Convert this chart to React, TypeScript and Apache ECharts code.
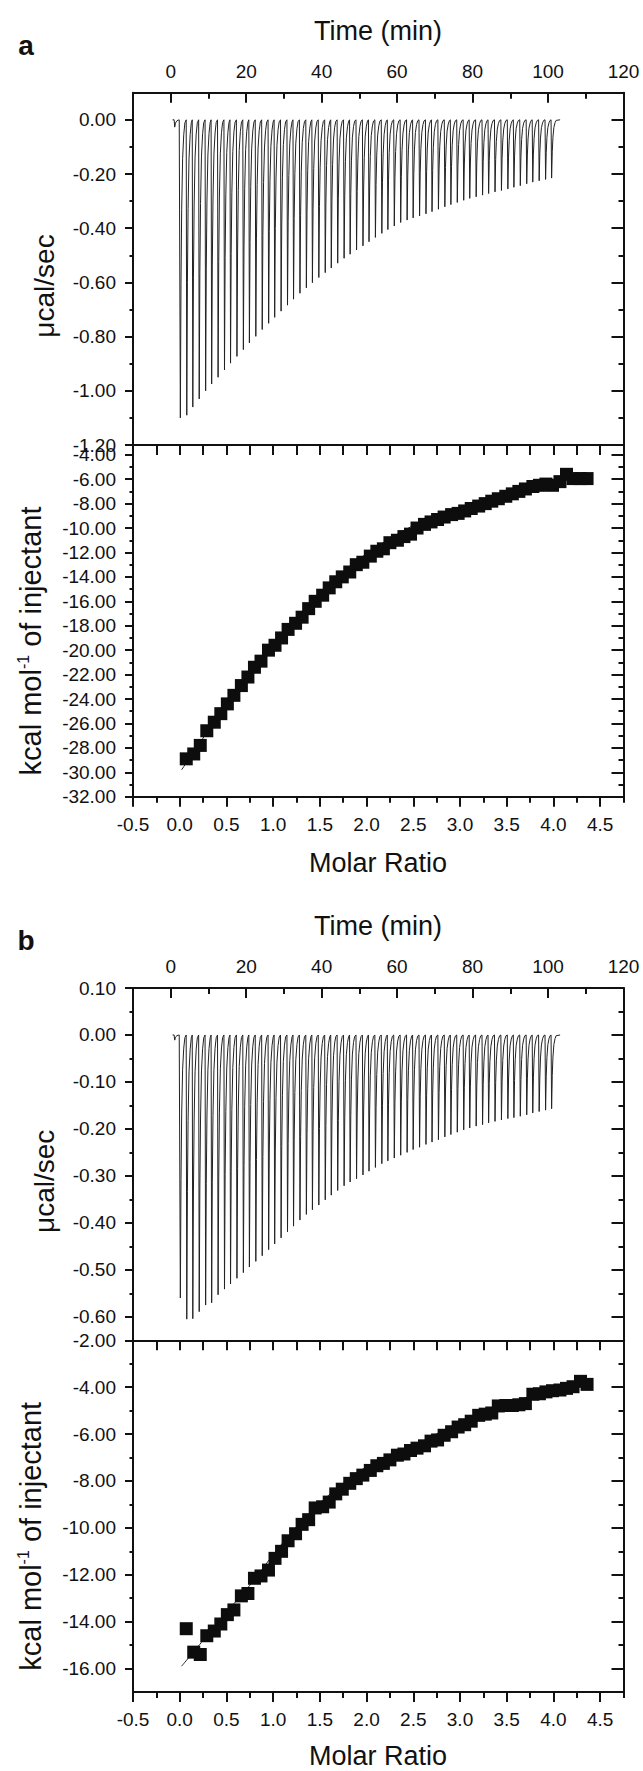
import React, { useEffect, useRef } from "react";
import * as echarts from "echarts";

// ---------------- data ----------------
const timeLabels = [0, 20, 40, 60, 80, 100, 120];
const timeMinor = [10, 30, 50, 70, 90, 110];
const molarLabels = [-0.5, 0, 0.5, 1, 1.5, 2, 2.5, 3, 3.5, 4, 4.5];
const molarMinor = [-0.25, 0.25, 0.75, 1.25, 1.75, 2.25, 2.75, 3.25, 3.75, 4.25, 4.75];
const molarAll = [...molarLabels, ...molarMinor];

const rawAYLabels = [0, -0.2, -0.4, -0.6, -0.8, -1.0, -1.2];
const rawAYMinor = [-0.1, -0.3, -0.5, -0.7, -0.9, -1.1];
const isoAYLabels = [-4, -6, -8, -10, -12, -14, -16, -18, -20, -22, -24, -26, -28, -30, -32];
const isoAYMinor = [-5, -7, -9, -11, -13, -15, -17, -19, -21, -23, -25, -27, -29, -31];
const rawBYLabels = [0.1, 0, -0.1, -0.2, -0.3, -0.4, -0.5, -0.6];
const rawBYMinor = [0.05, -0.05, -0.15, -0.25, -0.35, -0.45, -0.55];
const isoBYLabels = [-2, -4, -6, -8, -10, -12, -14, -16];
const isoBYMinor = [-3, -5, -7, -9, -11, -13, -15];

// injection times (min)
const injectionTimes = [
  0.9,
  2.4, 4.1, 5.7, 7.4, 9.1, 10.7, 12.4, 14.1, 15.7, 17.4,
  19.1, 20.7, 22.4, 24.1, 25.8, 27.4, 29.1, 30.8, 32.4, 34.1,
  35.8, 37.4, 39.1, 40.8, 42.4, 44.1, 45.8, 47.4, 49.1, 50.8,
  52.4, 54.1, 55.8, 57.4, 59.1, 60.8, 62.5, 64.1, 65.8, 67.5,
  69.1, 70.8, 72.5, 74.1, 75.8, 77.5, 79.1, 80.8, 82.5, 84.1,
  85.8, 87.5, 89.2, 90.8, 92.5, 94.2, 95.8, 97.5, 99.2, 100.8,
];
// peak heights (µcal/sec)
const peakA = [
  -0.027,
  -1.10, -1.09, -1.06, -1.03, -1.0, -0.975, -0.95, -0.923, -0.898, -0.873,
  -0.848, -0.823, -0.799, -0.774, -0.751, -0.729, -0.706, -0.684, -0.662, -0.64,
  -0.62, -0.601, -0.582, -0.564, -0.547, -0.529, -0.511, -0.496, -0.48, -0.465,
  -0.45, -0.434, -0.419, -0.405, -0.392, -0.379, -0.37, -0.362, -0.355, -0.347,
  -0.339, -0.33, -0.321, -0.313, -0.305, -0.297, -0.29, -0.284, -0.278, -0.272,
  -0.266, -0.261, -0.255, -0.249, -0.243, -0.236, -0.23, -0.225, -0.22, -0.215,
];
const peakB = [
  -0.011,
  -0.56, -0.605, -0.604, -0.589, -0.575, -0.57, -0.553, -0.541, -0.53, -0.518,
  -0.506, -0.494, -0.482, -0.47, -0.457, -0.445, -0.432, -0.419, -0.407, -0.394,
  -0.382, -0.372, -0.362, -0.351, -0.341, -0.331, -0.321, -0.313, -0.306, -0.298,
  -0.29, -0.282, -0.274, -0.268, -0.262, -0.256, -0.25, -0.244, -0.239, -0.233,
  -0.228, -0.223, -0.217, -0.212, -0.207, -0.202, -0.198, -0.194, -0.191, -0.187,
  -0.184, -0.181, -0.178, -0.176, -0.173, -0.17, -0.166, -0.163, -0.16, -0.157,
];

const molarRatio = [
  0.07, 0.15, 0.22, 0.29, 0.37, 0.44, 0.51, 0.58, 0.66, 0.73,
  0.80, 0.87, 0.95, 1.02, 1.09, 1.16, 1.24, 1.31, 1.38, 1.45,
  1.53, 1.60, 1.67, 1.74, 1.82, 1.89, 1.96, 2.04, 2.11, 2.18,
  2.25, 2.33, 2.40, 2.47, 2.54, 2.62, 2.69, 2.76, 2.83, 2.91,
  2.98, 3.05, 3.12, 3.20, 3.27, 3.34, 3.41, 3.49, 3.56, 3.63,
  3.70, 3.78, 3.85, 3.92, 3.99, 4.07, 4.14, 4.21, 4.29, 4.36,
];
const heatA = [
  -28.9, -28.5, -27.8, -26.6, -25.9, -25.2, -24.4, -23.7, -22.9, -22.2,
  -21.4, -20.9, -20.0, -19.6, -19.0, -18.3, -17.8, -17.3, -16.6, -16.0,
  -15.5, -14.9, -14.4, -14.0, -13.6, -13.0, -12.8, -12.3, -11.9, -11.7,
  -11.2, -11.0, -10.7, -10.5, -10.0, -9.7, -9.5, -9.3, -9.1, -8.9,
  -8.8, -8.6, -8.4, -8.2, -8.0, -7.8, -7.6, -7.4, -7.2, -7.0,
  -6.8, -6.6, -6.5, -6.4, -6.5, -6.2, -5.6, -5.95, -5.95, -5.95,
];
const heatB = [
  -14.3, -15.3, -15.4, -14.6, -14.4, -14.1, -13.7, -13.5, -12.9, -12.8,
  -12.15, -12.05, -11.8, -11.3, -11.0, -10.55, -10.25, -9.85, -9.65, -9.15,
  -9.1, -8.9, -8.55, -8.35, -8.1, -7.9, -7.75, -7.55, -7.35, -7.25,
  -7.1, -6.9, -6.85, -6.7, -6.6, -6.5, -6.3, -6.25, -6.05, -5.9,
  -5.7, -5.6, -5.45, -5.2, -5.15, -5.1, -4.8, -4.78, -4.78, -4.75,
  -4.7, -4.3, -4.28, -4.2, -4.15, -4.12, -4.05, -3.98, -3.75, -3.88,
];
const fitXA = [0.02, 0.25, 0.5, 0.75, 1.0, 1.25, 1.5, 1.75, 2.0, 2.5, 3.0, 3.5, 4.0, 4.35];
const fitYA = [-29.8, -27.2, -24.4, -21.8, -19.4, -17.3, -15.3, -13.6, -12.1, -9.8, -8.3, -7.1, -6.2, -5.7];
const fitXB = [0.02, 0.25, 0.5, 0.75, 1.0, 1.25, 1.5, 1.75, 2.0, 2.5, 3.0, 3.5, 4.0, 4.35];
const fitYB = [-15.9, -14.8, -13.6, -12.45, -11.15, -9.95, -8.95, -8.1, -7.4, -6.5, -5.5, -4.75, -4.05, -3.8];

// ---------------- styling ----------------
const FONT = "'Liberation Sans', Arial, Helvetica, sans-serif";
const INK = "#111";
// shape of one injection peak: [minutes after injection, fraction of peak height]
const spikeShape = [[0, 0], [0.15, 1], [0.32, 0.55], [0.5, 0.3], [0.75, 0.13], [1.05, 0.05], [1.35, 0.01]];

function thermogram(times: number[], peaks: number[]) {
  const pts: number[][] = [[0.5, 0]];
  times.forEach((t, i) => {
    for (const [dt, f] of spikeShape) pts.push([t + dt, peaks[i] * f]);
  });
  pts.push([103.2, 0]);
  return pts;
}

type AxOpt = {
  grid: number; pos: string; min: number; max: number; ticks: number[]; len: number; inside: boolean;
  line?: boolean; labels?: number[]; fmt?: (v: number) => string; margin?: number;
};
function axis(o: AxOpt) {
  return {
    type: "value", gridIndex: o.grid, position: o.pos, min: o.min, max: o.max,
    axisLine: { show: !!o.line, onZero: false, lineStyle: { color: INK, width: 2 } },
    axisTick: { show: true, inside: o.inside, length: o.len, customValues: o.ticks, lineStyle: { color: INK, width: 2 } },
    axisLabel: o.labels
      ? { show: true, customValues: o.labels, formatter: o.fmt, margin: o.margin, fontSize: 19, fontFamily: FONT, color: INK, hideOverlap: false }
      : { show: false },
    splitLine: { show: false },
    minorTick: { show: false },
    minorSplitLine: { show: false },
  };
}

const LEFT = 133;
const WIDTH = 490.5;
const PANEL_DY = 895.3;

function buildOption() {
  const grids: any[] = [];
  const xAxes: any[] = [];
  const yAxes: any[] = [];
  const series: any[] = [];
  const graphics: any[] = [];

  const panels = [
    { letter: "a", peaks: peakA, heat: heatA, fitX: fitXA, fitY: fitYA,
      rawMin: -1.2, rawMax: 0.1, rawLabels: rawAYLabels, rawMinor: rawAYMinor,
      isoMin: -32, isoMax: -3.2, isoLabels: isoAYLabels, isoMinor: isoAYMinor },
    { letter: "b", peaks: peakB, heat: heatB, fitX: fitXB, fitY: fitYB,
      rawMin: -0.65, rawMax: 0.1, rawLabels: rawBYLabels, rawMinor: rawBYMinor,
      isoMin: -17, isoMax: -2, isoLabels: isoBYLabels, isoMinor: isoBYMinor },
  ];

  panels.forEach((p, pi) => {
    const dy = pi * PANEL_DY;
    const gTop = grids.length;
    grids.push({ left: LEFT, width: WIDTH, top: 92.7 + dy, height: 352.3, containLabel: false, outerBoundsMode: "none" });
    const gIso = grids.length;
    grids.push({ left: LEFT, width: WIDTH, top: 445 + dy, height: 351.7, containLabel: false, outerBoundsMode: "none" });

    // --- raw thermogram subplot ---
    const xTime = xAxes.length;
    xAxes.push(axis({ grid: gTop, pos: "top", min: -10, max: 120, ticks: timeLabels, len: 10, inside: true, line: true,
      labels: timeLabels, fmt: (v) => String(v), margin: 12 }));
    xAxes.push(axis({ grid: gTop, pos: "top", min: -10, max: 120, ticks: timeMinor, len: 6, inside: true }));
    const yRaw = yAxes.length;
    const f2 = (v: number) => v.toFixed(2);
    yAxes.push(axis({ grid: gTop, pos: "left", min: p.rawMin, max: p.rawMax, ticks: p.rawLabels, len: 8, inside: false, line: true,
      labels: p.rawLabels, fmt: f2, margin: 17 }));
    yAxes.push(axis({ grid: gTop, pos: "left", min: p.rawMin, max: p.rawMax, ticks: p.rawMinor, len: 3.5, inside: false }));
    yAxes.push(axis({ grid: gTop, pos: "right", min: p.rawMin, max: p.rawMax, ticks: p.rawLabels, len: 12, inside: true, line: true }));
    yAxes.push(axis({ grid: gTop, pos: "right", min: p.rawMin, max: p.rawMax, ticks: p.rawMinor, len: 5, inside: true }));

    series.push({
      type: "line", xAxisIndex: xTime, yAxisIndex: yRaw, data: thermogram(injectionTimes, p.peaks),
      showSymbol: false, symbol: "none", silent: true, lineStyle: { color: "#222", width: 1 },
    });

    // --- isotherm subplot ---
    const xMol = xAxes.length;
    xAxes.push(axis({ grid: gIso, pos: "bottom", min: -0.5, max: 4.75, ticks: molarLabels, len: 10, inside: false, line: true,
      labels: molarLabels, fmt: (v) => v.toFixed(1), margin: 18 }));
    xAxes.push(axis({ grid: gIso, pos: "bottom", min: -0.5, max: 4.75, ticks: molarMinor, len: 6, inside: false }));
    xAxes.push(axis({ grid: gIso, pos: "top", min: -0.5, max: 4.75, ticks: molarAll, len: 10, inside: true, line: true }));
    const yIso = yAxes.length;
    yAxes.push(axis({ grid: gIso, pos: "left", min: p.isoMin, max: p.isoMax, ticks: p.isoLabels, len: 8, inside: false, line: true,
      labels: p.isoLabels, fmt: f2, margin: 17 }));
    yAxes.push(axis({ grid: gIso, pos: "left", min: p.isoMin, max: p.isoMax, ticks: p.isoMinor, len: 3.5, inside: false }));
    yAxes.push(axis({ grid: gIso, pos: "right", min: p.isoMin, max: p.isoMax, ticks: p.isoLabels, len: 12, inside: true, line: true }));
    yAxes.push(axis({ grid: gIso, pos: "right", min: p.isoMin, max: p.isoMax, ticks: p.isoMinor, len: 5, inside: true }));

    series.push({
      type: "line", xAxisIndex: xMol, yAxisIndex: yIso, smooth: 0.4, showSymbol: false, symbol: "none", silent: true,
      data: p.fitX.map((x, i) => [x, p.fitY[i]]), lineStyle: { color: "#222", width: 1 }, z: 2,
    });
    series.push({
      type: "scatter", xAxisIndex: xMol, yAxisIndex: yIso, symbol: "rect", symbolSize: [13, 13], silent: true,
      data: molarRatio.map((m, i) => [m, p.heat[i]]), itemStyle: { color: "#0d0d0d", opacity: 1 }, z: 3,
    });

    // --- texts ---
    const t = (text: string, x: number, y: number, size: number, extra: any = {}) => ({
      type: "text", x, y, rotation: extra.rot || 0, silent: true,
      style: {
        text, fontSize: size, fontFamily: FONT, fontWeight: extra.bold ? "bold" : "normal", fill: INK,
        align: "center", verticalAlign: "middle", textAlign: "center", textVerticalAlign: "middle",
        rich: extra.rich,
      },
    });
    graphics.push(t(p.letter, 26, 45 + dy, 28, { bold: true }));
    graphics.push(t("Time (min)", 378, 31 + dy, 27));
    graphics.push(t("Molar Ratio", 378, 863 + dy - pi * 2, 27));
    graphics.push(t("μcal/sec", 44, 286 + dy, 28, { rot: Math.PI / 2 }));
    graphics.push(t("{n|kcal mol}{s|-1}{n| of injectant}", 31, 641 + dy, 29, {
      rot: Math.PI / 2,
      rich: {
        n: { fontSize: 29, lineHeight: 32, fontFamily: FONT, fill: INK, color: INK },
        s: { fontSize: 16, lineHeight: 17, verticalAlign: "top", fontFamily: FONT, fill: INK, color: INK },
      },
    }));
  });

  return {
    animation: false,
    backgroundColor: "#ffffff",
    textStyle: { fontFamily: FONT },
    grid: grids,
    xAxis: xAxes,
    yAxis: yAxes,
    series,
    graphic: { elements: graphics },
  };
}

export default function App() {
  const ref = useRef<HTMLDivElement>(null);
  useEffect(() => {
    document.body.style.margin = "0";
    const chart = echarts.init(ref.current as HTMLDivElement, null, { renderer: "svg", width: 643, height: 1771 });
    chart.setOption(buildOption() as any);
    return () => chart.dispose();
  }, []);
  return <div ref={ref} style={{ position: "absolute", left: 0, top: 0, width: 643, height: 1771 }} />;
}
